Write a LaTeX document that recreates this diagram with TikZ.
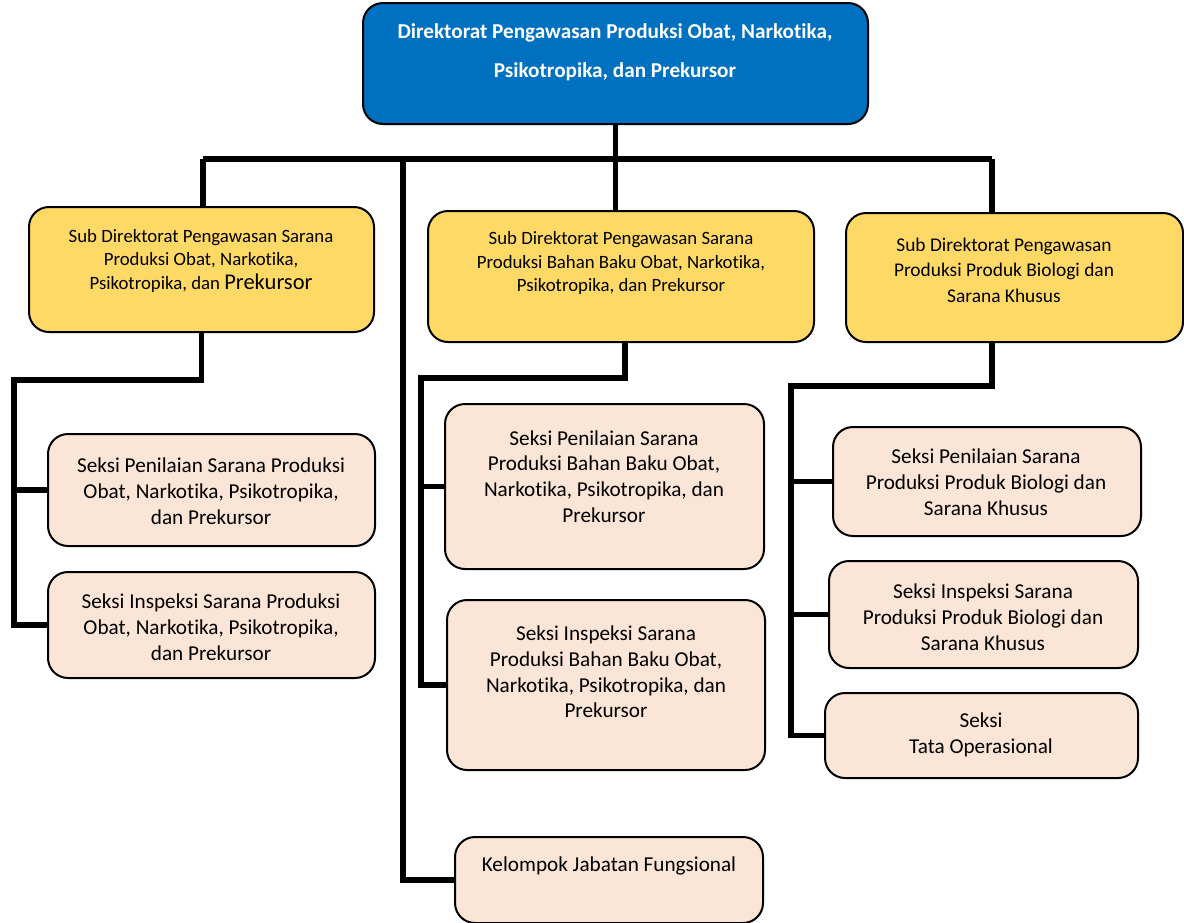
\documentclass[tikz,border=0pt]{standalone}
\usepackage{fontspec}
\setmainfont{Carlito}[Ligatures=NoCommon]
\definecolor{topblue}{HTML}{0070C0}
\definecolor{subyellow}{HTML}{FFD966}
\definecolor{seksipeach}{HTML}{FBE5D6}
\begin{document}
\begin{tikzpicture}[x=1pt,y=-1pt,
  box/.style={draw=black, line width=2pt, rounded corners=20pt, inner sep=0pt},
  topbox/.style={box, fill=topblue},
  subbox/.style={box, fill=subyellow},
  seksibox/.style={box, fill=seksipeach},
  lbl/.style={align=center, inner sep=0pt, font=\fontsize{21.2}{25.8}\selectfont},
  sublbl/.style={align=center, inner sep=0pt, font=\fontsize{18.8}{23.5}\selectfont},
  conn/.style={line width=5.5pt, black, line join=miter}]
\useasboundingbox (0,0) rectangle (1184,922);
% boxes
\node[topbox, minimum width=505pt, minimum height=121pt] (top) at (615.5,63.5) {};
\node[subbox, minimum width=345pt, minimum height=125pt] (subL) at (201.5,269.5) {};
\node[subbox, minimum width=386pt, minimum height=131pt] (subM) at (621,276.5) {};
\node[subbox, minimum width=337pt, minimum height=129pt] (subR) at (1014.5,277.5) {};
\node[seksibox, minimum width=327pt, minimum height=112pt] (L1) at (211.5,490) {};
\node[seksibox, minimum width=327pt, minimum height=106pt] (L2) at (211.5,625) {};
\node[seksibox, minimum width=319pt, minimum height=165pt] (M1) at (604.5,486.5) {};
\node[seksibox, minimum width=318pt, minimum height=170pt] (M2) at (606,685) {};
\node[seksibox, minimum width=308pt, minimum height=109pt] (R1) at (987,481.5) {};
\node[seksibox, minimum width=309pt, minimum height=107pt] (R2) at (983.5,614.5) {};
\node[seksibox, minimum width=313pt, minimum height=85pt] (R3) at (981.5,735.5) {};
\node[seksibox, minimum width=308pt, minimum height=86pt] (K) at (609,880) {};
% texts
\node[align=center, inner sep=0pt, text=white, font=\fontsize{21.2}{39}\selectfont\bfseries] (topt) at (615,52.5)
  {Direktorat Pengawasan Produksi Obat, Narkotika,\\Psikotropika, dan Prekursor};
\node[sublbl] (subLt) at (201,260.5)
  {Sub Direktorat Pengawasan Sarana\\Produksi Obat, Narkotika,\\Psikotropika, dan {\fontsize{22.5}{23.5}\selectfont Prekursor}};
\node[sublbl] (subMt) at (621,263)
  {Sub Direktorat Pengawasan Sarana\\Produksi Bahan Baku Obat, Narkotika,\\Psikotropika, dan Prekursor};
\node[align=center, inner sep=0pt, font=\fontsize{19.4}{25.5}\selectfont] (subRt) at (1004,270)
  {Sub Direktorat Pengawasan\\Produksi Produk Biologi dan\\Sarana Khusus};
\node[lbl] (L1t) at (211,491)
  {Seksi Penilaian Sarana Produksi\\Obat, Narkotika, Psikotropika,\\dan Prekursor};
\node[lbl] (L2t) at (211,627.5)
  {Seksi Inspeksi Sarana Produksi\\Obat, Narkotika, Psikotropika,\\dan Prekursor};
\node[lbl] (M1t) at (604,476.5)
  {Seksi Penilaian Sarana\\Produksi Bahan Baku Obat,\\Narkotika, Psikotropika, dan\\Prekursor};
\node[lbl] (M2t) at (606,672)
  {Seksi Inspeksi Sarana\\Produksi Bahan Baku Obat,\\Narkotika, Psikotropika, dan\\Prekursor};
\node[lbl] (R1t) at (986,482)
  {Seksi Penilaian Sarana\\Produksi Produk Biologi dan\\Sarana Khusus};
\node[lbl] (R2t) at (983,617)
  {Seksi Inspeksi Sarana\\Produksi Produk Biologi dan\\Sarana Khusus};
\node[lbl] (R3t) at (981,735)
  {Seksi\\Tata Operasional};
\node[lbl] (Kt) at (609,866) {Kelompok Jabatan Fungsional};
% connectors
\coordinate (busL) at (203,159);
\coordinate (busR) at (992,159);
\coordinate (busK) at (403,159);
\coordinate (lj) at (14,380);
\coordinate (mj) at (421,378);
\coordinate (rj) at (791,386);
\draw[conn] (top.south) -- (top.south |- subM.north);
\draw[conn] (busL) -- (busR);
\draw[conn] (busL) -- (busL |- subL.north);
\draw[conn] (busR) -- (busR |- subR.north);
\draw[conn] (busK) |- (K.west);
\draw[conn] (subL.south) |- (lj) -- (lj |- L2.west) -- (L2.west);
\draw[conn] (lj |- L1.west) -- (L1.west);
\draw[conn] ([xshift=4pt]subM.south) |- (mj) -- (mj |- M2.west) -- (M2.west);
\draw[conn] (mj |- M1.west) -- (M1.west);
\draw[conn] (busR |- subR.south) |- (rj) -- (rj |- R3.west) -- (R3.west);
\draw[conn] (rj |- R1.west) -- (R1.west);
\draw[conn] (rj |- R2.west) -- (R2.west);
\end{tikzpicture}
\end{document}
